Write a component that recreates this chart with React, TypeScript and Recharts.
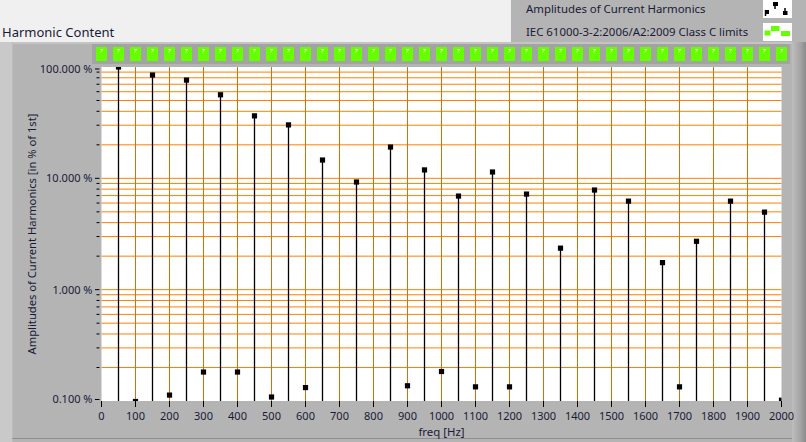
import React from 'react';
import { ComposedChart, Scatter, XAxis, YAxis, CartesianGrid } from 'recharts';

const FONT = "'Noto Sans', 'Open Sans', sans-serif";
const TEXT = '#1a1a36';

// Harmonic frequencies (Hz) and amplitudes in % of fundamental (null = below scale)
const harmonicFreqs = [
  50, 100, 150, 200, 250, 300, 350, 400, 450, 500,
  550, 600, 650, 700, 750, 800, 850, 900, 950, 1000,
  1050, 1100, 1150, 1200, 1250, 1300, 1350, 1400, 1450, 1500,
  1550, 1600, 1650, 1700, 1750, 1800, 1850, 1900, 1950, 2000,
];
const amplitudes: (number | null)[] = [
  100, 0.099, 84.7, 0.113, 76.3, 0.182, 56.3, 0.182, 36.4, 0.1086,
  30.2, 0.132, 14.6, null, 9.27, null, 19.1, 0.137, 11.9, 0.184,
  6.93, 0.134, 11.4, 0.134, 7.22, null, 2.36, null, 7.85, null,
  6.24, null, 1.75, 0.134, 2.72, null, 6.24, null, 4.97, 0.1016,
];

// Limit-check indicators (1 = pass)
const ledFreqs = [
  0, 50, 100, 150, 200, 250, 300, 350, 400, 450, 500,
  550, 600, 650, 700, 750, 800, 850, 900, 950, 1000,
  1050, 1100, 1150, 1200, 1250, 1300, 1350, 1400, 1450, 1500,
  1550, 1600, 1650, 1700, 1750, 1800, 1850, 1900, 1950, 2000,
];
const ledPass = [
  1, 1, 1, 1, 1, 1, 1, 1, 1, 1, 1,
  1, 1, 1, 1, 1, 1, 1, 1, 1, 1,
  1, 1, 1, 1, 1, 1, 1, 1, 1, 1,
  1, 1, 1, 1, 1, 1, 1, 1, 1, 1,
];

const xTicks = [0, 100, 200, 300, 400, 500, 600, 700, 800, 900, 1000, 1100, 1200, 1300, 1400, 1500, 1600, 1700, 1800, 1900, 2000];
const xGridValues = [100, 200, 300, 400, 500, 600, 700, 800, 900, 1000, 1100, 1200, 1300, 1400, 1500, 1600, 1700, 1800, 1900];
const yTicks = [
  0.1, 0.2, 0.3, 0.4, 0.5, 0.6, 0.7, 0.8, 0.9,
  1, 2, 3, 4, 5, 6, 7, 8, 9,
  10, 20, 30, 40, 50, 60, 70, 80, 90, 100,
];
const yGridValues = [
  0.2, 0.3, 0.4, 0.5, 0.6, 0.7, 0.8, 0.9,
  1, 2, 3, 4, 5, 6, 7, 8, 9,
  10, 20, 30, 40, 50, 60, 70, 80, 90,
];
const yMajorTicks = [0.1, 1, 10, 100];
const yMajorLabels = ['0.100 %', '1.000 %', '10.000 %', '100.000 %'];

const points = harmonicFreqs
  .map((f, i) => ({ freq: f, amp: amplitudes[i] }))
  .filter((d) => d.amp !== null);

const leds = ledFreqs.map((f, i) => ({ freq: f, pass: ledPass[i] }));

const PLOT_TOP = 67;
const PLOT_BOTTOM = 401;
const PLOT_RIGHT = 781.5;

const renderStem = (props: any) => {
  const { cx, cy, payload } = props;
  if (cx == null || cy == null) return <g />;
  const odd = Math.round(payload.freq / 50) % 2 === 1;
  const h = 2.6;
  const top = Math.max(cy - h, PLOT_TOP);
  const bottom = Math.min(cy + h, PLOT_BOTTOM);
  const left = cx - h;
  const right = Math.min(cx + h, PLOT_RIGHT + 1);
  return (
    <g>
      {odd && <line x1={cx} x2={cx} y1={Math.max(cy, PLOT_TOP)} y2={PLOT_BOTTOM} stroke="#000" strokeWidth={1.3} />}
      {bottom > top && <rect x={left} y={top} width={right - left} height={bottom - top} fill="#000" />}
    </g>
  );
};

// LED indicator: cy is the plot's top edge (pass = 1 = top of hidden axis)
const renderLed = (props: any) => {
  const { cx, cy, payload } = props;
  if (cx == null || cy == null) return <g />;
  const pass = payload.pass === 1;
  const x = cx;
  const y = cy;
  return (
    <g>
      <rect x={x - 5.5} y={y - 20} width={11} height={14} fill={pass ? '#66FF00' : '#FF2000'} />
      <path d={`M${x - 1.5},${y - 17.5} h3 M${x + 1.2},${y - 17.5} l-2.2,3`} stroke="#e6ffd2" strokeWidth={0.8} fill="none" />
    </g>
  );
};

const YTick = (props: any) => {
  const { x, y, payload } = props;
  const v = payload.value;
  const mi = yMajorTicks.indexOf(v);
  const major = mi >= 0;
  const ty = Math.min(Math.max(y, PLOT_TOP + 2), PLOT_BOTTOM - 1.5);
  return (
    <g>
      <line x1={x - (major ? 6.5 : 5)} x2={x - 2} y1={ty} y2={ty} stroke="#000" strokeWidth={1} />
      {major && (
        <text x={x - 9} y={ty} dy="0.36em" textAnchor="end" fontSize={11} fill={TEXT} fontFamily={FONT}>
          {yMajorLabels[mi]}
        </text>
      )}
    </g>
  );
};

const YLabel = (props: any) => {
  const vb = props.viewBox || { x: 0, y: 0, width: 0, height: 0 };
  const cx = vb.x + 29.5;
  const cy = vb.y + vb.height / 2;
  return (
    <text
      x={cx}
      y={cy}
      transform={`rotate(-90 ${cx} ${cy})`}
      textAnchor="middle"
      dominantBaseline="central"
      fontSize={11.2}
      fill={TEXT}
      fontFamily={FONT}
    >
      Amplitudes of Current Harmonics [in % of 1st]
    </text>
  );
};

const XLabel = (props: any) => {
  const vb = props.viewBox || { x: 0, y: 0, width: 0, height: 0 };
  return (
    <text x={vb.x + vb.width / 2} y={vb.y + 35} textAnchor="middle" fontSize={11.4} fill={TEXT} fontFamily={FONT}>
      freq [Hz]
    </text>
  );
};

const abs = (s: React.CSSProperties): React.CSSProperties => ({ position: 'absolute', ...s });

export default function App() {
  return (
    <div style={{ position: 'absolute', left: 0, top: 0, width: 806, height: 442, overflow: 'hidden', background: '#F0F0F0', fontFamily: FONT }}>
      {/* title */}
      <div style={abs({ left: 2, top: 22, fontSize: 13, color: TEXT, whiteSpace: 'nowrap', lineHeight: '20px' })}>Harmonic Content</div>
      {/* legend box */}
      <div style={abs({ left: 511, top: 0, width: 295, height: 42, background: '#B4B4B4' })} />
      <div style={abs({ left: 526, top: 1, fontSize: 11.4, color: TEXT, whiteSpace: 'nowrap', lineHeight: '16px' })}>Amplitudes of Current Harmonics</div>
      <div style={abs({ left: 526, top: 24, fontSize: 11.4, color: TEXT, whiteSpace: 'nowrap', lineHeight: '16px' })}>IEC 61000-3-2:2006/A2:2009 Class C limits</div>
      <svg style={abs({ left: 763, top: 0 })} width={29} height={18}>
        <rect x={0} y={0} width={29} height={18} fill="#fff" />
        <line x1={2.5} x2={2.5} y1={10} y2={16} stroke="#000" strokeWidth={1.5} />
        <rect x={2} y={10} width={4} height={4} fill="#000" />
        <rect x={10} y={2} width={5} height={4} fill="#000" />
        <line x1={12} x2={12} y1={5} y2={9} stroke="#000" strokeWidth={1.5} />
        <rect x={20} y={11} width={4.5} height={4} fill="#000" />
        <line x1={22} x2={22} y1={8} y2={11} stroke="#000" strokeWidth={1.5} />
      </svg>
      <svg style={abs({ left: 763, top: 23 })} width={29} height={18}>
        <rect x={0} y={0} width={29} height={18} fill="#fff" />
        <rect x={1.5} y={7.5} width={6} height={5} fill="#66FF00" />
        <rect x={8} y={3} width={8.5} height={5} fill="#66FF00" />
        <rect x={18} y={8} width={9} height={5} fill="#66FF00" />
      </svg>
      {/* main panel */}
      <div style={abs({ left: 0, top: 42, width: 806, height: 400, background: '#B4B4B4' })} />
      <div style={abs({ left: 0, top: 42, width: 806, height: 2, background: '#C4C4C4' })} />
      <div style={abs({ left: 0, top: 42, width: 12, height: 400, background: '#C9C9C9', borderRight: '1px solid #BDBDBD' })} />
      <div style={abs({ left: 792, top: 42, width: 14, height: 400, background: 'linear-gradient(to right, #BEBEBE, #A4A4A4 60%, #8A8A8A)' })} />
      <div style={abs({ left: 12, top: 438, width: 780, height: 1, background: '#8E8E8E' })} />
      {/* LED strip */}
      <div style={abs({ left: 92, top: 44, width: 698, height: 20, background: '#A3A3A3' })} />
      <div style={abs({ left: 0, top: 0 })}>
        <ComposedChart width={806} height={442} margin={{ top: 67, right: 24.5, bottom: 0, left: 1.5 }}>
          <CartesianGrid xAxisId="f" yAxisId="a" fill="#FFFFFF" vertical={false} stroke="#FF8000" strokeOpacity={1} horizontalValues={yGridValues} />
          <CartesianGrid xAxisId="f" yAxisId="a" horizontal={false} stroke="#D2700A" strokeOpacity={1} verticalValues={xGridValues} />
          <XAxis xAxisId="led" dataKey="freq" type="number" domain={[0, 2000]} hide />
          <YAxis yAxisId="ledY" dataKey="pass" type="number" domain={[0, 1]} hide />
          <XAxis
            xAxisId="f"
            dataKey="freq"
            type="number"
            domain={[0, 2000]}
            ticks={xTicks}
            interval={0}
            height={41}
            axisLine={false}
            tickLine={{ stroke: '#000', strokeWidth: 1 }}
            tickSize={6}
            tickMargin={5}
            tick={{ fontSize: 11, fill: TEXT, fontFamily: FONT }}
            label={<XLabel />}
            allowDataOverflow
          />
          <YAxis
            yAxisId="a"
            dataKey="amp"
            type="number"
            scale="log"
            domain={[0.1, 100]}
            ticks={yTicks}
            interval={0}
            width={100}
            axisLine={false}
            tickLine={false}
            tickSize={0}
            tickMargin={0}
            tick={<YTick />}
            label={<YLabel />}
            allowDataOverflow
          />
          <Scatter xAxisId="f" yAxisId="a" data={points} dataKey="amp" shape={renderStem} isAnimationActive={false} />
          <Scatter xAxisId="led" yAxisId="ledY" data={leds} dataKey="pass" shape={renderLed} isAnimationActive={false} />
        </ComposedChart>
      </div>
    </div>
  );
}
